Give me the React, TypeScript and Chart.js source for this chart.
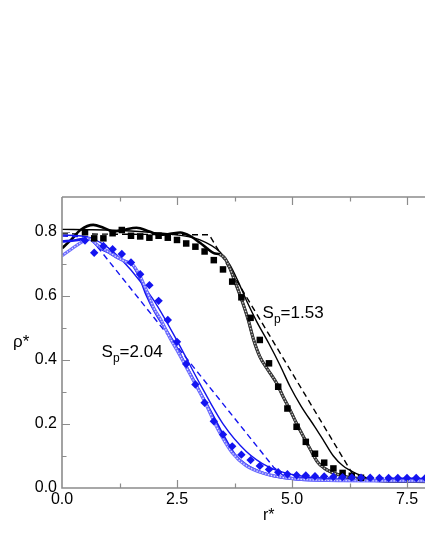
import React, { useEffect, useRef } from 'react';
import { Chart, registerables } from 'chart.js';

Chart.register(...registerables);

const FONT = "'Liberation Sans', Arial, Helvetica, sans-serif";
const AXIS_COLOR = '#8c8c8c';
const BLUE = '#1414f0';
const BLUE_CHAIN = '#6c6cff';

// ---- axis ticks ----
const xMajorTicks = [0, 2.5, 5, 7.5];
const xMinorTicks = [1.25, 3.75, 6.25];
const yMajorTicks = [0, 0.2, 0.4, 0.6, 0.8];
const yMinorTicks = [0.1, 0.3, 0.5, 0.7];
const X_MIN = 0;
const X_MAX = 8;
const Y_MIN = 0;
const Y_MAX = 0.908;

// ---- S_p = 1.53 (black) ----
const rSquares = [0.5, 0.7, 0.9, 1.1, 1.3, 1.5, 1.7, 1.9, 2.1, 2.3, 2.5, 2.7, 2.9, 3.1, 3.3, 3.5, 3.7, 3.9, 4.1, 4.3, 4.5, 4.7, 4.9, 5.1, 5.3, 5.5, 5.7, 5.9, 6.1, 6.3, 6.5];
const rhoSquares = [0.798, 0.779, 0.779, 0.795, 0.805, 0.787, 0.785, 0.781, 0.787, 0.781, 0.774, 0.763, 0.753, 0.738, 0.711, 0.682, 0.644, 0.595, 0.531, 0.462, 0.389, 0.316, 0.248, 0.191, 0.144, 0.107, 0.079, 0.061, 0.047, 0.038, 0.032];

const rBlackThick = [0, 0.2, 0.4, 0.68, 0.9, 1.12, 1.35, 1.62, 1.9, 2.13, 2.35, 2.57, 2.8, 3.0, 3.15, 3.3, 3.43, 3.54, 3.65, 3.76, 3.9, 4.05, 4.16, 4.3, 4.48, 4.67, 4.81, 4.96, 5.1, 5.25, 5.4, 5.55, 5.7, 5.85, 6.0, 6.2, 6.6, 7.0, 8.0];
const rhoBlackThick = [0.748, 0.775, 0.805, 0.821, 0.812, 0.8, 0.806, 0.812, 0.8, 0.79, 0.793, 0.797, 0.785, 0.765, 0.748, 0.733, 0.729, 0.717, 0.686, 0.644, 0.59, 0.524, 0.465, 0.41, 0.368, 0.326, 0.284, 0.243, 0.201, 0.16, 0.12, 0.082, 0.062, 0.05, 0.042, 0.034, 0.026, 0.022, 0.02];

const rBlackChain = [3.43, 3.54, 3.65, 3.76, 3.9, 4.05, 4.16, 4.3, 4.48, 4.67, 4.81, 4.96, 5.1, 5.25, 5.4, 5.55, 5.7, 5.85, 6.0, 6.2, 6.6, 7.0, 8.0];
const rhoBlackChain = [0.729, 0.717, 0.686, 0.644, 0.59, 0.524, 0.465, 0.41, 0.368, 0.326, 0.284, 0.243, 0.201, 0.16, 0.12, 0.082, 0.062, 0.05, 0.042, 0.034, 0.026, 0.022, 0.02];

const rBlackThin = [0, 0.5, 1.0, 1.5, 2.0, 2.5, 3.0, 3.43, 3.65, 3.83, 4.01, 4.23, 4.5, 4.75, 4.96, 5.2, 5.5, 5.7, 5.9, 6.1, 6.4, 6.8, 8.0];
const rhoBlackThin = [0.807, 0.806, 0.805, 0.802, 0.797, 0.79, 0.774, 0.737, 0.696, 0.644, 0.585, 0.52, 0.45, 0.38, 0.316, 0.255, 0.19, 0.145, 0.1, 0.07, 0.045, 0.025, 0.02];

const rBlackDashed = [0, 3.2, 6.3, 6.45, 8.0];
const rhoBlackDashed = [0.793, 0.79, 0.048, 0.025, 0.02];

// ---- S_p = 2.04 (blue) ----
const rDiamonds = [0.5, 0.7, 0.9, 1.1, 1.3, 1.5, 1.7, 1.9, 2.1, 2.3, 2.5, 2.7, 2.9, 3.1, 3.3, 3.5, 3.7, 3.9, 4.1, 4.3, 4.5, 4.7, 4.9, 5.1, 5.3, 5.5, 5.7, 5.9, 6.1, 6.3, 6.5, 6.7, 6.9, 7.1, 7.3, 7.5, 7.7, 7.9];
const rhoDiamonds = [0.772, 0.734, 0.755, 0.745, 0.73, 0.704, 0.667, 0.633, 0.584, 0.524, 0.456, 0.387, 0.323, 0.266, 0.208, 0.167, 0.13, 0.104, 0.087, 0.069, 0.058, 0.049, 0.043, 0.04, 0.039, 0.037, 0.036, 0.035, 0.034, 0.033, 0.032, 0.032, 0.031, 0.031, 0.031, 0.031, 0.031, 0.031];

const rBlueThick = [0, 0.3, 0.57, 0.83, 1.04, 1.22, 1.41, 1.51, 1.7, 1.84, 2.02, 2.2, 2.42, 2.67, 3.0, 3.3, 3.5, 3.75, 4.0, 4.4, 4.8, 5.2, 6.0, 8.0];
const rhoBlueThick = [0.769, 0.773, 0.779, 0.748, 0.733, 0.717, 0.706, 0.7, 0.654, 0.602, 0.55, 0.508, 0.456, 0.389, 0.3, 0.22, 0.165, 0.105, 0.072, 0.045, 0.032, 0.026, 0.023, 0.022];

const rBlueChain = [0, 0.2, 0.4, 0.57, 0.8, 1.0, 1.2, 1.4, 1.55, 1.7, 1.85, 2.0, 2.15, 2.35, 2.5, 2.85, 3.1, 3.4, 3.7, 4.0, 4.4, 4.8, 5.2, 6.0, 8.0];
const rhoBlueChain = [0.725, 0.745, 0.765, 0.778, 0.755, 0.738, 0.72, 0.705, 0.695, 0.66, 0.612, 0.56, 0.525, 0.467, 0.43, 0.337, 0.27, 0.18, 0.11, 0.07, 0.045, 0.033, 0.027, 0.023, 0.022];

const rBlueThin = [0, 0.5, 1.0, 1.5, 2.0, 2.5, 3.0, 3.5, 4.0, 4.5, 5.0, 5.5, 6.0, 7.0, 8.0];
const rhoBlueThin = [0.789, 0.785, 0.75, 0.68, 0.585, 0.46, 0.325, 0.2, 0.115, 0.065, 0.042, 0.032, 0.028, 0.025, 0.025];

const rBlueDashed = [0, 0.6, 4.6, 4.8, 5.0, 8.0];
const rhoBlueDashed = [0.786, 0.783, 0.065, 0.04, 0.032, 0.03];

// ---- labels ----
const xTitle = 'r*';
const yTitle = 'ρ*';
const labelBlack = { sub: 'p', rest: '=1.53', r: 4.36, rho: 0.53 };
const labelBlue = { sub: 'p', rest: '=2.04', r: 0.86, rho: 0.408 };

const pts = (xs: number[], ys: number[]) => xs.map((x, i) => ({ x, y: ys[i] }));

const lineDs = (xs: number[], ys: number[], color: string, width: number, extra: any = {}) => ({
  data: pts(xs, ys),
  borderColor: color,
  backgroundColor: color,
  borderWidth: width,
  pointRadius: 0,
  fill: false,
  cubicInterpolationMode: 'monotone',
  ...extra,
});

const framePlugin = {
  id: 'frame',
  afterDraw(chart: any) {
    const { ctx, chartArea: a, scales } = chart;
    const xs = scales.x;
    const ys = scales.y;
    ctx.save();
    ctx.strokeStyle = AXIS_COLOR;
    ctx.lineWidth = 1.6;
    ctx.beginPath();
    ctx.moveTo(a.left, a.top);
    ctx.lineTo(a.left, a.bottom);
    ctx.lineTo(a.right, a.bottom);
    ctx.moveTo(a.left, a.top);
    ctx.lineTo(a.right, a.top);
    ctx.stroke();

    ctx.lineWidth = 1.2;
    ctx.beginPath();
    const yTick = (v: number, len: number) => {
      const p = Math.round(ys.getPixelForValue(v)) + 0.5;
      ctx.moveTo(a.left, p);
      ctx.lineTo(a.left + len, p);
    };
    const xTick = (v: number, len: number) => {
      const p = Math.round(xs.getPixelForValue(v)) + 0.5;
      ctx.moveTo(p, a.bottom);
      ctx.lineTo(p, a.bottom - len);
      ctx.moveTo(p, a.top);
      ctx.lineTo(p, a.top + len);
    };
    yMajorTicks.filter((v) => v > 0).forEach((v) => yTick(v, 8));
    yMinorTicks.forEach((v) => yTick(v, 4.5));
    xMajorTicks.filter((v) => v > 0).forEach((v) => xTick(v, 8));
    xMinorTicks.forEach((v) => xTick(v, 4.5));
    ctx.stroke();

    // axis titles
    ctx.fillStyle = '#000';
    ctx.textBaseline = 'alphabetic';
    ctx.font = `17px ${FONT}`;
    ctx.textAlign = 'left';
    ctx.fillText(yTitle, 13, (a.top + a.bottom) / 2 + 4);
    ctx.font = `16px ${FONT}`;
    ctx.fillText(xTitle, 263, a.bottom + 32);

    // annotations
    const drawLabel = (lab: any) => {
      let px = xs.getPixelForValue(lab.r);
      const py = ys.getPixelForValue(lab.rho);
      ctx.font = `17px ${FONT}`;
      ctx.fillText('S', px, py);
      px += ctx.measureText('S').width;
      ctx.font = `12px ${FONT}`;
      ctx.fillText(lab.sub, px, py + 5);
      px += ctx.measureText(lab.sub).width;
      ctx.font = `17px ${FONT}`;
      ctx.fillText(lab.rest, px, py);
    };
    drawLabel(labelBlack);
    drawLabel(labelBlue);
    ctx.restore();
  },
};

export default function App() {
  const ref = useRef<HTMLCanvasElement | null>(null);

  useEffect(() => {
    document.body.style.margin = '0';
    document.body.style.overflow = 'hidden';
    document.documentElement.style.overflow = 'hidden';
    const canvas = ref.current;
    if (!canvas) return;

    const chainBlackBase = lineDs(rBlackChain, rhoBlackChain, '#3a3a3a', 3.2);
    const chainBlackTop = lineDs(rBlackChain, rhoBlackChain, '#d8d8d8', 1.2, { borderDash: [1.3, 1.7] });
    const chainBlueBase = lineDs(rBlueChain, rhoBlueChain, BLUE_CHAIN, 3.2);
    const chainBlueTop = lineDs(rBlueChain, rhoBlueChain, '#e6e6ff', 1.2, { borderDash: [1.3, 1.7] });

    const datasets: any[] = [
      {
        data: pts(rDiamonds, rhoDiamonds),
        showLine: false,
        pointStyle: 'rectRot',
        pointRadius: 4.2,
        pointBackgroundColor: BLUE,
        pointBorderColor: BLUE,
        pointBorderWidth: 0,
      },
      {
        data: pts(rSquares, rhoSquares),
        showLine: false,
        pointStyle: 'rect',
        pointRadius: 4.6,
        pointBackgroundColor: '#000',
        pointBorderColor: '#000',
        pointBorderWidth: 0,
      },
      chainBlueTop,
      chainBlueBase,
      lineDs(rBlueThick, rhoBlueThick, BLUE, 2.6),
      lineDs(rBlueThin, rhoBlueThin, BLUE, 1.4),
      lineDs(rBlueDashed, rhoBlueDashed, BLUE, 1.4, { borderDash: [6, 4], cubicInterpolationMode: 'default', tension: 0 }),
      chainBlackTop,
      chainBlackBase,
      lineDs(rBlackThick, rhoBlackThick, '#000', 2.6),
      lineDs(rBlackThin, rhoBlackThin, '#000', 1.4),
      lineDs(rBlackDashed, rhoBlackDashed, '#000', 1.4, { borderDash: [6, 4], cubicInterpolationMode: 'default', tension: 0 }),
    ];

    const chart = new Chart(canvas, {
      type: 'line',
      data: { datasets },
      options: {
        animation: false,
        responsive: false,
        devicePixelRatio: 1,
        layout: { padding: { top: 197, left: 0, right: 10, bottom: 0 } },
        plugins: { legend: { display: false }, tooltip: { enabled: false } },
        scales: {
          x: {
            type: 'linear',
            min: X_MIN,
            max: X_MAX,
            grid: { display: false, drawTicks: false },
            border: { display: false },
            afterBuildTicks: (s: any) => {
              s.ticks = xMajorTicks.map((value) => ({ value }));
            },
            afterFit: (s: any) => {
              s.height = 62;
            },
            ticks: {
              padding: 2,
              color: '#000',
              font: { family: FONT, size: 16 },
              maxRotation: 0,
              autoSkip: false,
              callback: (v: any) => Number(v).toFixed(1),
            },
          },
          y: {
            type: 'linear',
            min: Y_MIN,
            max: Y_MAX,
            grid: { display: false, drawTicks: false },
            border: { display: false },
            afterBuildTicks: (s: any) => {
              s.ticks = yMajorTicks.map((value) => ({ value }));
            },
            afterFit: (s: any) => {
              s.width = 62;
            },
            ticks: {
              padding: 5,
              color: '#000',
              font: { family: FONT, size: 16 },
              autoSkip: false,
              callback: (v: any) => Number(v).toFixed(1),
            },
          },
        },
      } as any,
      plugins: [framePlugin],
    });
    return () => chart.destroy();
  }, []);

  return (
    <div style={{ position: 'fixed', left: 0, top: 0, width: 440, height: 550, background: '#fff' }}>
      <canvas ref={ref} width={440} height={550} style={{ display: 'block' }} />
    </div>
  );
}
